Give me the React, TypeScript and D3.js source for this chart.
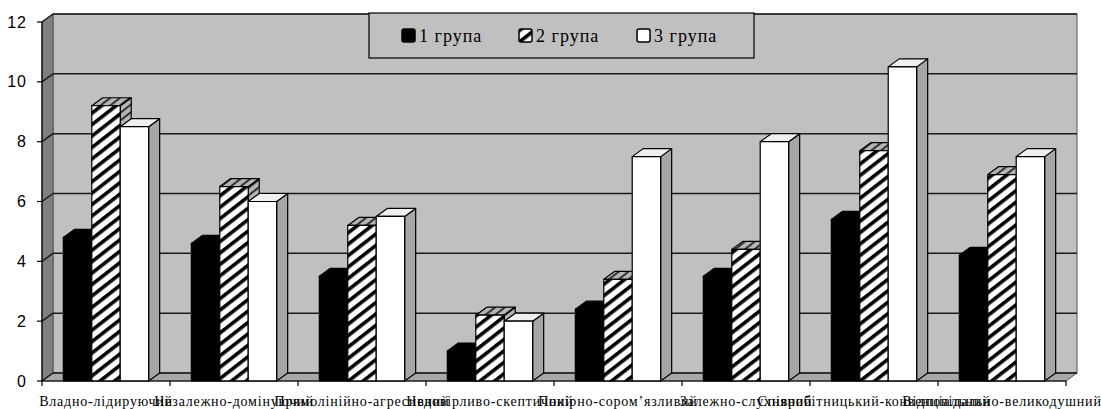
import * as d3 from 'd3';

// categories on the x axis
const categories: string[] = [
  'Владно-лідируючий',
  'Незалежно-домінуючий',
  'Прямолінійно-агресивний',
  'Недовірливо-скептичний',
  'Покірно-сором’язливий',
  'Залежно-слухняний',
  'Співробітницький-конвенціальний',
  'Відповідально-великодушний',
];

const seriesNames: string[] = ['1 група', '2 група', '3 група'];

// values per group
const group1: number[] = [4.8, 4.6, 3.5, 1.0, 2.4, 3.5, 5.4, 4.2];
const group2: number[] = [9.2, 6.5, 5.2, 2.2, 3.4, 4.4, 7.7, 6.9];
const group3: number[] = [8.5, 6.0, 5.5, 2.0, 7.5, 8.0, 10.5, 7.5];

const yTicks: number[] = [0, 2, 4, 6, 8, 10, 12];

const W = 1101;
const H = 409;
const left = 42;
const right = 1066;
const bottom = 381;
const top = 22;
// 3d depth offset
const dx = 11;
const dy = -8;

export default function App() {
  const series = [group1, group2, group3];

  const x = d3.scaleBand<string>().domain(categories).range([left, right]).padding(0);
  const xs = d3.scaleBand<string>().domain(seriesNames).range([0, x.bandwidth()]).paddingInner(0).paddingOuter(0.75);
  const y = d3.scaleLinear().domain([0, 12]).range([bottom, top]);
  const bw = xs.bandwidth();

  const pts = (p: number[][]) => p.map(q => q.join(',')).join(' ');

  const faces = (si: number) => {
    if (si === 0) return { front: '#000', top: '#000', side: '#000' };
    if (si === 1) return { front: 'url(#hatch)', top: 'url(#hatchDark)', side: 'url(#hatchDark)' };
    return { front: '#fff', top: '#f0f0f0', side: '#a6a6a6' };
  };

  const bars: JSX.Element[] = [];
  categories.forEach((c, ci) => {
    seriesNames.forEach((s, si) => {
      const v = series[si][ci];
      const x0 = (x(c) as number) + (xs(s) as number);
      const x1 = x0 + bw;
      const yv = y(v);
      const f = faces(si);
      bars.push(
        <g key={`${ci}-${si}`} stroke="#000" strokeWidth={1.2} strokeLinejoin="round">
          <polygon points={pts([[x1, yv], [x1 + dx, yv + dy], [x1 + dx, bottom + dy], [x1, bottom]])} fill={f.side} />
          <polygon points={pts([[x0, yv], [x1, yv], [x1 + dx, yv + dy], [x0 + dx, yv + dy]])} fill={f.top} />
          <rect x={x0} y={yv} width={bw} height={bottom - yv} fill={f.front} />
        </g>
      );
    });
  });

  const legendX = [402, 519, 637];

  return (
    <svg width={W} height={H} style={{ position: 'absolute', left: 0, top: 0, background: '#fff' }}>
      <defs>
        <pattern id="hatch" width={9} height={9} patternUnits="userSpaceOnUse" patternTransform="rotate(-38)">
          <rect width={9} height={9} fill="#fff" />
          <rect width={9} height={3.6} fill="#000" />
        </pattern>
        <pattern id="hatchDark" width={6} height={6} patternUnits="userSpaceOnUse" patternTransform="rotate(-38)">
          <rect width={6} height={6} fill="#b5b5b5" />
          <rect width={6} height={2} fill="#333" />
        </pattern>
      </defs>

      {/* back wall */}
      <rect x={left + dx} y={top + dy} width={right - left} height={bottom - top} fill="#c0c0c0" stroke="#555" strokeWidth={1} />
      {/* left side wall */}
      <polygon points={pts([[left, bottom], [left + dx, bottom + dy], [left + dx, top + dy], [left, top]])} fill="#808080" stroke="#555" strokeWidth={1} />
      {/* floor */}
      <polygon points={pts([[left, bottom], [right, bottom], [right + dx, bottom + dy], [left + dx, bottom + dy]])} fill="#a8a8a8" stroke="#555" strokeWidth={1} />

      {/* gridlines */}
      {yTicks.map(t => (
        <g key={t} stroke="#1a1a1a" strokeWidth={1.5} fill="none">
          <line x1={left} y1={y(t)} x2={left + dx} y2={y(t) + dy} />
          <line x1={left + dx} y1={y(t) + dy} x2={right + dx} y2={y(t) + dy} />
        </g>
      ))}

      {bars}

      {/* axes */}
      <line x1={left} y1={top} x2={left} y2={bottom} stroke="#000" strokeWidth={1.2} />
      <line x1={left} y1={bottom} x2={right} y2={bottom} stroke="#000" strokeWidth={1.2} />
      {yTicks.map(t => (
        <g key={`yt${t}`}>
          <line x1={left - 5} y1={y(t)} x2={left} y2={y(t)} stroke="#000" strokeWidth={1.2} />
          <text x={27} y={y(t)} dy="0.35em" textAnchor="end" fontFamily="'Liberation Sans', Arial, sans-serif" fontSize={16} letterSpacing={1} fill="#000">
            {t}
          </text>
        </g>
      ))}
      {categories.map((c, i) => (
        <line key={`xt${i}`} x1={x(c) as number} y1={bottom} x2={x(c) as number} y2={bottom + 5} stroke="#000" strokeWidth={1.2} />
      ))}
      <line x1={right} y1={bottom} x2={right} y2={bottom + 5} stroke="#000" strokeWidth={1.2} />

      {categories.map((c, i) => (
        <text key={`xl${i}`} x={(x(c) as number) + x.bandwidth() / 2} y={406} textAnchor="middle" fontFamily="'Liberation Serif', 'Times New Roman', serif" fontSize={14} letterSpacing={0.8} fill="#000">
          {c}
        </text>
      ))}

      {/* legend */}
      <rect x={369} y={13} width={385} height={45} fill="#c0c0c0" stroke="#000" strokeWidth={1.2} />
      {seriesNames.map((s, i) => (
        <g key={s}>
          <rect x={legendX[i]} y={29} width={13} height={13} rx={2} fill={faces(i).front} stroke="#000" strokeWidth={1.5} />
          <text x={legendX[i] + 17} y={42} fontFamily="'Liberation Serif', 'Times New Roman', serif" fontSize={18} letterSpacing={1} fill="#000">
            {s}
          </text>
        </g>
      ))}
    </svg>
  );
}
